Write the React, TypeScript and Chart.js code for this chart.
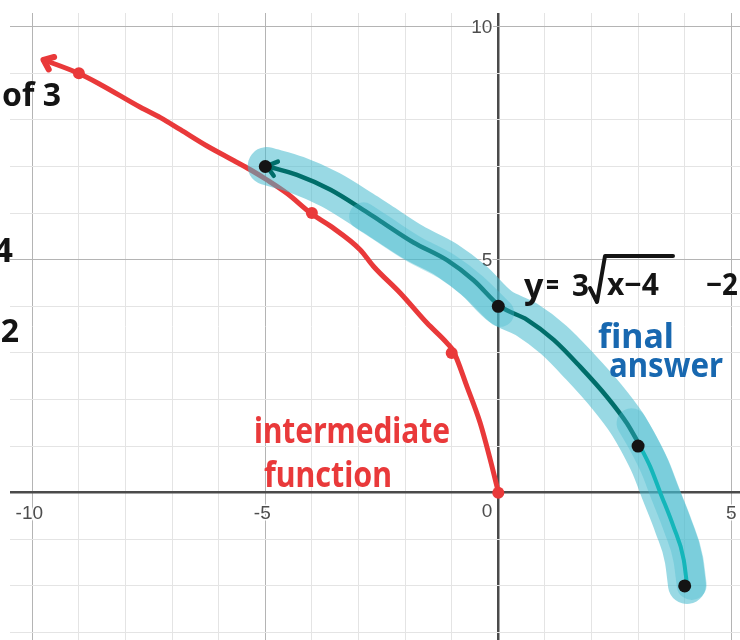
import { useEffect, useRef } from "react";
import { Chart, registerables } from "chart.js";

Chart.register(...registerables);

// Visible window of the coordinate plane
const X_MIN = -10.4785;
const X_MAX = 5.187;
const Y_MIN = -3.161;
const Y_MAX = 10.294;

// Hand-drawn intermediate function y = 3√(−x)
const intermediateX = [-9.76, -9.03, -8.54, -7.68, -7.25, -6.82, -6.25, -5.68, -5.32, -4.96, -4.53, -4.0, -3.6, -2.96, -2.68, -2.1, -1.53, -1.1, -0.96, -0.67, -0.39, -0.17, 0];
const intermediateY = [9.29, 9.01, 8.76, 8.27, 8.05, 7.79, 7.44, 7.13, 6.93, 6.71, 6.42, 5.98, 5.72, 5.21, 4.86, 4.28, 3.64, 3.21, 3.03, 2.27, 1.5, 0.7, 0.02];
const intermediatePtsX = [-9, -4, -1, 0];
const intermediatePtsY = [9, 6, 3, 0];

// Hand-drawn final answer y = 3√(−(x−4)) − 2
const finalX = [-4.97, -4.32, -3.6, -2.9, -2.53, -1.82, -1.1, -0.53, 0.04, 0.62, 1.19, 1.76, 2.33, 2.76, 3.01, 3.26, 3.48, 3.76, 3.98, 4.05];
const finalY = [7.01, 6.82, 6.5, 6.07, 5.83, 5.37, 4.99, 4.56, 4.0, 3.71, 3.28, 2.7, 2.06, 1.49, 1.06, 0.56, -0.01, -0.73, -1.44, -1.98];
const finalPtsX = [-5, 0, 3, 4];
const finalPtsY = [7, 4, 1, -2];

// Axis numbers
const xTickValues = [-10, -5, 0, 5];
const yTickValues = [5, 10];

const RED = "rgb(233,57,58)";
const BLUE = "rgb(24,104,176)";
const INK = "#141414";
const TEAL_DARK = "rgb(0,110,106)";
const TEAL_BRIGHT = "rgb(20,182,186)";
const BAND = "rgba(70,185,205,0.55)";
const BAND_OVER = "rgba(70,185,205,0.35)";
const GRID_MINOR = "#e4e4e4";
const GRID_MAJOR = "#b4b4b4";
const AXIS = "#4a4a4a";
const HAND_FONT = '"Noto Sans", sans-serif';

type P = { x: number; y: number };
const pts = (xs: number[], ys: number[]): P[] => xs.map((x, i) => ({ x, y: ys[i] }));

const finalCurve = pts(finalX, finalY);
const headPart = finalCurve.filter((p) => p.x <= 3.01);
const tailPart = finalCurve.filter((p) => p.x >= 3.01);
const overlayB = finalCurve.filter((p) => p.x >= -2.9 && p.x <= 0.3).map((p) => ({ x: p.x, y: p.y - 0.14 }));
const overlayC = finalCurve.filter((p) => p.x >= 2.76).map((p) => ({ x: p.x + 0.1, y: p.y }));

const integerTicks = (axis: any) => {
  const out: { value: number }[] = [];
  for (let v = Math.ceil(axis.min); v <= Math.floor(axis.max); v++) out.push({ value: v });
  axis.ticks = out;
};

const gridColor = (c: any) => {
  const v = c.tick?.value;
  if (v === 0) return AXIS;
  return v % 5 === 0 ? GRID_MAJOR : GRID_MINOR;
};
const gridWidth = (c: any) => (c.tick?.value === 0 ? 2.5 : 1);

function arrowHead(ctx: CanvasRenderingContext2D, chart: any, a: P, b: P, color: string, len: number, width: number) {
  const xs = chart.scales.x;
  const ys = chart.scales.y;
  const tx = xs.getPixelForValue(a.x);
  const ty = ys.getPixelForValue(a.y);
  const theta = Math.atan2(ys.getPixelForValue(b.y) - ty, xs.getPixelForValue(b.x) - tx);
  const spread = (38 * Math.PI) / 180;
  ctx.save();
  ctx.strokeStyle = color;
  ctx.fillStyle = color;
  ctx.lineWidth = width;
  ctx.lineCap = "round";
  ctx.lineJoin = "round";
  ctx.beginPath();
  ctx.moveTo(tx + len * Math.cos(theta - spread), ty + len * Math.sin(theta - spread));
  ctx.lineTo(tx, ty);
  ctx.lineTo(tx + len * Math.cos(theta + spread), ty + len * Math.sin(theta + spread));
  ctx.stroke();
  ctx.restore();
}

function hand(ctx: CanvasRenderingContext2D, text: string, x: number, y: number, size: number, color: string, maxW?: number, align: CanvasTextAlign = "left") {
  ctx.save();
  ctx.font = `bold ${size}px ${HAND_FONT}`;
  ctx.fillStyle = color;
  ctx.textAlign = align;
  ctx.textBaseline = "alphabetic";
  if (maxW) ctx.fillText(text, x, y, maxW);
  else ctx.fillText(text, x, y);
  ctx.restore();
}

const arrowPlugin = {
  id: "arrowHeads",
  afterDatasetDraw(chart: any, args: any) {
    const label = chart.data.datasets[args.index].label;
    const ctx = chart.ctx;
    if (label === "intermediate") {
      const d = pts(intermediateX, intermediateY);
      arrowHead(ctx, chart, d[0], d[2], RED, 11, 6);
    }
    if (label === "final") {
      arrowHead(ctx, chart, finalCurve[0], finalCurve[1], TEAL_DARK, 12, 4.5);
    }
  },
};

const axisLabelPlugin = {
  id: "axisLabels",
  beforeDatasetsDraw(chart: any) {
    const ctx: CanvasRenderingContext2D = chart.ctx;
    const xs = chart.scales.x;
    const ys = chart.scales.y;
    const x0 = xs.getPixelForValue(0);
    const y0 = ys.getPixelForValue(0);
    ctx.save();
    ctx.font = '19px "Liberation Sans", Arial, sans-serif';
    ctx.fillStyle = "#4d4d4d";
    ctx.strokeStyle = "rgba(255,255,255,0.9)";
    ctx.lineWidth = 3;
    ctx.lineJoin = "round";
    ctx.textBaseline = "top";
    ctx.textAlign = "center";
    for (const v of xTickValues) {
      const px = xs.getPixelForValue(v);
      if (v === 0) {
        ctx.textAlign = "right";
        ctx.strokeText("0", x0 - 6, y0 + 10);
        ctx.fillText("0", x0 - 6, y0 + 10);
        ctx.textAlign = "center";
        continue;
      }
      const t = String(v);
      const cx = v < 0 ? px - 3 : px;
      ctx.strokeText(t, cx, y0 + 12);
      ctx.fillText(t, cx, y0 + 12);
    }
    ctx.textAlign = "right";
    ctx.textBaseline = "middle";
    for (const v of yTickValues) {
      const py = ys.getPixelForValue(v);
      ctx.strokeText(String(v), x0 - 6, py + 1);
      ctx.fillText(String(v), x0 - 6, py + 1);
    }
    ctx.restore();
  },
};

const notesPlugin = {
  id: "notes",
  afterDraw(chart: any) {
    const ctx: CanvasRenderingContext2D = chart.ctx;
    // partial notes along the left edge
    hand(ctx, "of 3", 2, 106, 32, INK, 60);
    hand(ctx, "4", 13, 262, 34, INK, undefined, "right");
    hand(ctx, "2", 19, 342, 32, INK, undefined, "right");

    // equation y = 3√(x−4) − 2
    hand(ctx, "y", 524, 298, 34, INK, 21);
    hand(ctx, "=", 546, 295, 30, INK, 13);
    hand(ctx, "3", 572, 296, 31, INK, 17);
    ctx.save();
    ctx.strokeStyle = INK;
    ctx.lineWidth = 4;
    ctx.lineCap = "round";
    ctx.lineJoin = "round";
    ctx.beginPath();
    ctx.moveTo(590, 288);
    ctx.lineTo(597, 302);
    ctx.lineTo(605, 256);
    ctx.lineTo(673, 256);
    ctx.stroke();
    ctx.restore();
    hand(ctx, "x−4", 607, 295, 30, INK, 66);
    hand(ctx, "−2", 706, 295, 30, INK, 32);

    hand(ctx, "final", 598, 348, 34, BLUE, 80);
    hand(ctx, "answer", 609, 377, 34, BLUE, 114);

    hand(ctx, "intermediate", 254, 443, 36, RED, 196);
    hand(ctx, "function", 264, 487, 36, RED, 128);
  },
};

export default function App() {
  const ref = useRef<HTMLCanvasElement | null>(null);

  useEffect(() => {
    if (!ref.current) return;
    const lineStyle = {
      showLine: true,
      pointRadius: 0,
      cubicInterpolationMode: "monotone" as const,
      borderCapStyle: "round" as const,
      borderJoinStyle: "round" as const,
      fill: false,
    };
    const chart = new Chart(ref.current, {
      type: "scatter",
      data: {
        datasets: [
          { label: "final points", data: pts(finalPtsX, finalPtsY), showLine: false, pointRadius: 6.5, pointBackgroundColor: INK, pointBorderWidth: 0, order: 1 },
          { ...lineStyle, label: "final tail", data: tailPart, borderColor: TEAL_BRIGHT, borderWidth: 4, order: 2 },
          { ...lineStyle, label: "band C", data: overlayC, borderColor: BAND_OVER, borderWidth: 30, order: 3 },
          { ...lineStyle, label: "band B", data: overlayB, borderColor: BAND_OVER, borderWidth: 28, order: 4 },
          { ...lineStyle, label: "final", data: headPart, borderColor: TEAL_DARK, borderWidth: 4.5, order: 5 },
          { ...lineStyle, label: "band A", data: finalCurve, borderColor: BAND, borderWidth: 38, order: 6 },
          { label: "intermediate points", data: pts(intermediatePtsX, intermediatePtsY), showLine: false, pointRadius: 6, pointBackgroundColor: RED, pointBorderWidth: 0, order: 7 },
          { ...lineStyle, label: "intermediate", data: pts(intermediateX, intermediateY), borderColor: RED, borderWidth: 5, order: 8 },
        ],
      },
      options: {
        responsive: false,
        devicePixelRatio: 1,
        animation: false,
        layout: { autoPadding: false, padding: { left: 10, top: 13, right: 0, bottom: 0 } },
        plugins: { legend: { display: false }, tooltip: { enabled: false } },
        scales: {
          x: {
            type: "linear",
            min: X_MIN,
            max: X_MAX,
            afterBuildTicks: integerTicks,
            ticks: { display: false },
            border: { display: false },
            grid: { drawTicks: false, color: gridColor, lineWidth: gridWidth },
          },
          y: {
            type: "linear",
            min: Y_MIN,
            max: Y_MAX,
            afterBuildTicks: integerTicks,
            ticks: { display: false },
            border: { display: false },
            grid: { drawTicks: false, color: gridColor, lineWidth: gridWidth },
          },
        },
      },
      plugins: [axisLabelPlugin, arrowPlugin, notesPlugin],
    });
    return () => chart.destroy();
  }, []);

  return (
    <div style={{ position: "absolute", left: 0, top: 0, width: 740, height: 640, background: "#ffffff" }}>
      <canvas ref={ref} width={740} height={640} style={{ display: "block" }} />
    </div>
  );
}
